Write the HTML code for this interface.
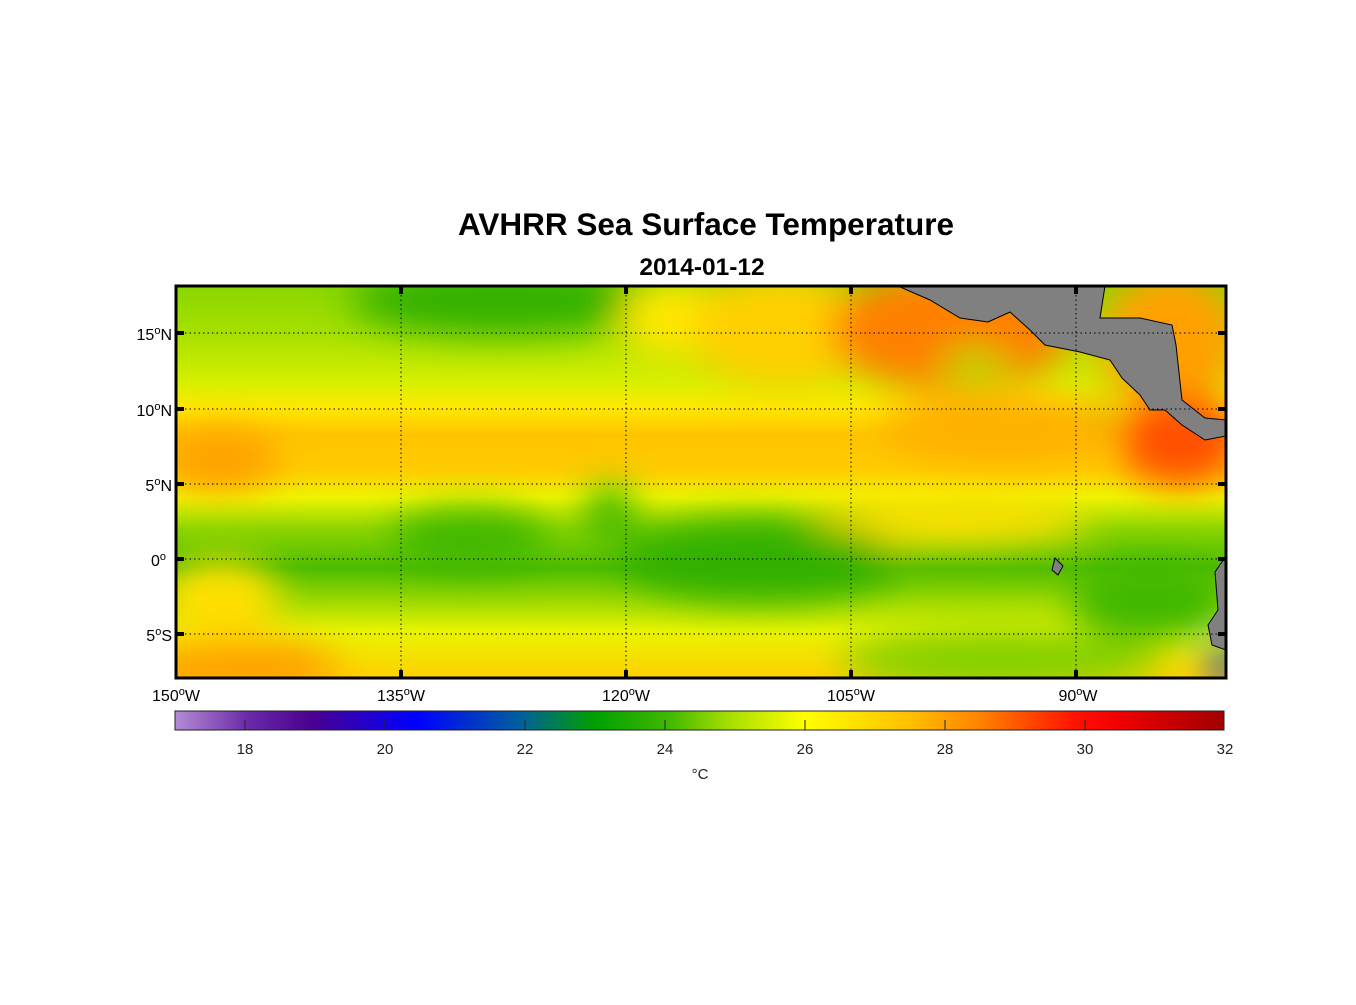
<!DOCTYPE html>
<html><head><meta charset="utf-8"><style>
body{margin:0;background:#fff;}
svg text{font-family:"Liberation Sans",Arial,sans-serif;}
</style></head><body>
<svg width="1356" height="1000" viewBox="0 0 1356 1000" xmlns="http://www.w3.org/2000/svg">
<defs>
<linearGradient id="base" x1="0" y1="0" x2="0" y2="1">
<stop offset="0" stop-color="#8ad600"/>
<stop offset="0.12" stop-color="#a6e000"/>
<stop offset="0.25" stop-color="#d8f000"/>
<stop offset="0.31" stop-color="#ffe800"/>
<stop offset="0.38" stop-color="#ffc400"/>
<stop offset="0.47" stop-color="#ffcc00"/>
<stop offset="0.54" stop-color="#eef400"/>
<stop offset="0.62" stop-color="#8cd400"/>
<stop offset="0.72" stop-color="#4cbc00"/>
<stop offset="0.8" stop-color="#9ad800"/>
<stop offset="0.88" stop-color="#e8f400"/>
<stop offset="1" stop-color="#ffd000"/>
</linearGradient>
<linearGradient id="cb" x1="0" y1="0" x2="1" y2="0">
<stop offset="0" stop-color="#b48cd4"/>
<stop offset="0.07" stop-color="#6a2aa8"/>
<stop offset="0.13" stop-color="#4b0090"/>
<stop offset="0.23" stop-color="#0000ff"/>
<stop offset="0.33" stop-color="#00609a"/>
<stop offset="0.4" stop-color="#00a000"/>
<stop offset="0.47" stop-color="#40b800"/>
<stop offset="0.53" stop-color="#a8e000"/>
<stop offset="0.6" stop-color="#ffff00"/>
<stop offset="0.7" stop-color="#ffc000"/>
<stop offset="0.77" stop-color="#ff8000"/>
<stop offset="0.86" stop-color="#ff1000"/>
<stop offset="0.9" stop-color="#f00000"/>
<stop offset="1" stop-color="#a00000"/>
</linearGradient>
<filter id="bl" x="-50%" y="-50%" width="200%" height="200%"><feGaussianBlur stdDeviation="18"/></filter>
<clipPath id="mc"><rect x="176" y="286" width="1050" height="392"/></clipPath>
</defs>
<text x="706" y="235" font-size="31.5" font-weight="bold" text-anchor="middle">AVHRR Sea Surface Temperature</text>
<text x="702" y="275" font-size="24.5" font-weight="bold" text-anchor="middle">2014-01-12</text>
<g clip-path="url(#mc)">
<rect x="176" y="286" width="1050" height="392" fill="url(#base)"/>
<g filter="url(#bl)">
<ellipse cx="500" cy="300" rx="150" ry="35" fill="#30b000"/>
<ellipse cx="680" cy="320" rx="60" ry="40" fill="#ffe800"/>
<ellipse cx="780" cy="330" rx="90" ry="60" fill="#ffd000"/>
<ellipse cx="950" cy="330" rx="120" ry="60" fill="#ff8000"/>
<ellipse cx="1170" cy="340" rx="70" ry="70" fill="#ffa000"/>
<ellipse cx="975" cy="365" rx="35" ry="15" fill="#a8e000"/>
<ellipse cx="1100" cy="415" rx="14" ry="16" fill="#50c000"/>
<ellipse cx="1180" cy="440" rx="60" ry="45" fill="#ff5000"/>
<ellipse cx="1000" cy="430" rx="120" ry="35" fill="#ffb000"/>
<ellipse cx="220" cy="460" rx="60" ry="30" fill="#ffa000"/>
<ellipse cx="950" cy="520" rx="140" ry="25" fill="#ffe000"/>
<ellipse cx="470" cy="540" rx="80" ry="30" fill="#40b800"/>
<ellipse cx="610" cy="515" rx="25" ry="30" fill="#40b800"/>
<ellipse cx="760" cy="560" rx="140" ry="40" fill="#30b000"/>
<ellipse cx="1150" cy="600" rx="80" ry="40" fill="#40b800"/>
<ellipse cx="220" cy="600" rx="60" ry="40" fill="#ffe000"/>
<ellipse cx="240" cy="670" rx="100" ry="30" fill="#ffa000"/>
<ellipse cx="1000" cy="660" rx="160" ry="30" fill="#80d000"/>
<ellipse cx="1226" cy="665" rx="15" ry="20" fill="#0030e0"/>
</g>
<path d="M898,286 L930,300 960,318 988,322 1010,312 1030,330 1045,345 1080,352 1110,360 1122,378 1140,395 1150,410 1165,410 1182,425 1205,440 1226,436 1226,420 1205,418 1182,400 1176,345 1172,325 1140,318 1100,318 1105,286 Z" fill="#808080" stroke="#000" stroke-width="1"/>
<path d="M1226,556 L1215,572 1218,610 1208,625 1212,645 1226,650 Z" fill="#808080" stroke="#000" stroke-width="1"/>
<path d="M1055,558 L1063,566 1058,575 1052,570 Z" fill="#808080" stroke="#000" stroke-width="1"/>
</g>
<g stroke="#000" stroke-width="1" stroke-dasharray="1.5,3">
<line x1="401" y1="286" x2="401" y2="678"/><line x1="626" y1="286" x2="626" y2="678"/>
<line x1="851" y1="286" x2="851" y2="678"/><line x1="1076" y1="286" x2="1076" y2="678"/>
<line x1="176" y1="333" x2="1226" y2="333"/><line x1="176" y1="409" x2="1226" y2="409"/>
<line x1="176" y1="484" x2="1226" y2="484"/><line x1="176" y1="559" x2="1226" y2="559"/>
<line x1="176" y1="634" x2="1226" y2="634"/>
</g>
<rect x="176" y="286" width="1050" height="392" fill="none" stroke="#000" stroke-width="3"/>
<g stroke="#000" stroke-width="4">
<line x1="401" y1="286" x2="401" y2="294"/><line x1="626" y1="286" x2="626" y2="294"/><line x1="851" y1="286" x2="851" y2="294"/><line x1="1076" y1="286" x2="1076" y2="294"/>
<line x1="401" y1="678" x2="401" y2="670"/><line x1="626" y1="678" x2="626" y2="670"/><line x1="851" y1="678" x2="851" y2="670"/><line x1="1076" y1="678" x2="1076" y2="670"/>
<line x1="176" y1="333" x2="184" y2="333"/><line x1="176" y1="409" x2="184" y2="409"/><line x1="176" y1="484" x2="184" y2="484"/><line x1="176" y1="559" x2="184" y2="559"/><line x1="176" y1="634" x2="184" y2="634"/>
<line x1="1226" y1="333" x2="1218" y2="333"/><line x1="1226" y1="409" x2="1218" y2="409"/><line x1="1226" y1="484" x2="1218" y2="484"/><line x1="1226" y1="559" x2="1218" y2="559"/><line x1="1226" y1="634" x2="1218" y2="634"/>
</g>
<g font-size="16" text-anchor="end">
<text x="172" y="340">15<tspan dy="-6" font-size="11">o</tspan><tspan dy="6">N</tspan></text>
<text x="172" y="416">10<tspan dy="-6" font-size="11">o</tspan><tspan dy="6">N</tspan></text>
<text x="172" y="491">5<tspan dy="-6" font-size="11">o</tspan><tspan dy="6">N</tspan></text>
<text x="166" y="566">0<tspan dy="-6" font-size="11">o</tspan></text>
<text x="172" y="641">5<tspan dy="-6" font-size="11">o</tspan><tspan dy="6">S</tspan></text>
</g>
<g font-size="16" text-anchor="middle">
<text x="176" y="701">150<tspan dy="-6" font-size="11">o</tspan><tspan dy="6">W</tspan></text>
<text x="401" y="701">135<tspan dy="-6" font-size="11">o</tspan><tspan dy="6">W</tspan></text>
<text x="626" y="701">120<tspan dy="-6" font-size="11">o</tspan><tspan dy="6">W</tspan></text>
<text x="851" y="701">105<tspan dy="-6" font-size="11">o</tspan><tspan dy="6">W</tspan></text>
<text x="1078" y="701">90<tspan dy="-6" font-size="11">o</tspan><tspan dy="6">W</tspan></text>
</g>
<rect x="175" y="711" width="1049" height="19" fill="url(#cb)" stroke="#222" stroke-width="1"/>
<g stroke="#222" stroke-width="1">
<line x1="245" y1="730" x2="245" y2="720"/><line x1="385" y1="730" x2="385" y2="720"/><line x1="525" y1="730" x2="525" y2="720"/><line x1="665" y1="730" x2="665" y2="720"/><line x1="805" y1="730" x2="805" y2="720"/><line x1="945" y1="730" x2="945" y2="720"/><line x1="1085" y1="730" x2="1085" y2="720"/>
</g>
<g font-size="15" text-anchor="middle" fill="#222">
<text x="245" y="754">18</text><text x="385" y="754">20</text><text x="525" y="754">22</text><text x="665" y="754">24</text><text x="805" y="754">26</text><text x="945" y="754">28</text><text x="1085" y="754">30</text><text x="1225" y="754">32</text>
<text x="700" y="779">°C</text>
</g>
</svg>
</body></html>
